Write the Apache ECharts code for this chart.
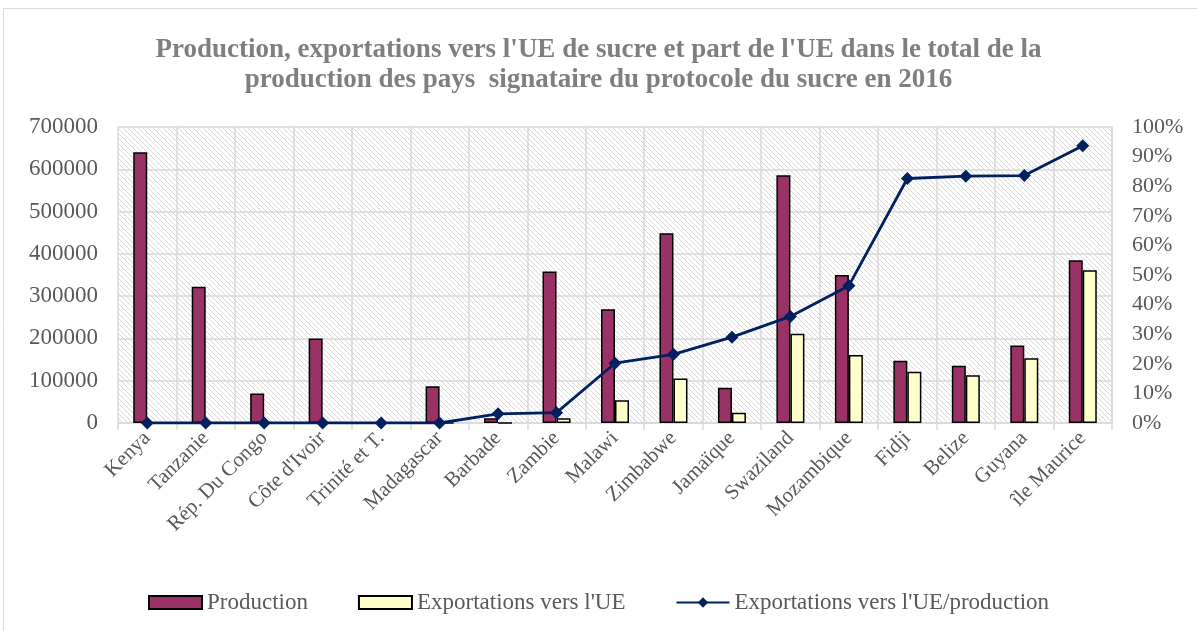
<!DOCTYPE html>
<html>
<head>
<meta charset="utf-8">
<script src="https://cdn.jsdelivr.net/npm/echarts@6/dist/echarts.min.js"></script>
<style>
  html, body { margin: 0; padding: 0; background: #fff; }
  #main { width: 1197px; height: 631px; }
</style>
</head>
<body>
<div id="main"></div>
<script>
const pays = ['Kenya', 'Tanzanie', 'Rép. Du Congo', "Côte d'Ivoir", 'Trinité et T.', 'Madagascar', 'Barbade', 'Zambie', 'Malawi', 'Zimbabwe', 'Jamaïque', 'Swaziland', 'Mozambique', 'Fidji', 'Belize', 'Guyana', 'île Maurice']
// production (tonnes)
const production = [640000, 322000, 70000, 200000, 0, 87000, 11000, 358000, 269000, 449000, 83500, 586000, 350000, 147000, 135500, 183000, 385000]
// exportations vers l'UE
const exportations = [0, 0, 0, 0, 0, 0, 350, 11000, 54000, 105000, 24000, 211000, 161000, 121000, 113000, 153000, 361000]
// part de l'UE dans la production
const part = [0, 0, 0, 0, 0, 0, 0.031, 0.035, 0.202, 0.232, 0.29, 0.36, 0.464, 0.826, 0.834, 0.836, 0.937]

const serif = '"Liberation Serif", "DejaVu Serif", serif'
const gris = '#595959'

// motif hachuré du fond
function hatch() {
  const c = document.createElement('canvas')
  c.width = 5
  c.height = 5
  const ctx = c.getContext('2d')
  ctx.fillStyle = '#fff'
  ctx.fillRect(0, 0, 5, 5)
  ctx.strokeStyle = '#d9d9d9'
  ctx.lineWidth = 1
  ctx.beginPath()
  ctx.moveTo(-1, -1); ctx.lineTo(6, 6)
  ctx.moveTo(-6, -1); ctx.lineTo(1, 6)
  ctx.moveTo(4, -1); ctx.lineTo(11, 6)
  ctx.stroke()
  return c
}

const chart = echarts.init(document.getElementById('main'))
const option = {
  backgroundColor: '#fff',
  animation: false,
  title: {
    text: "Production, exportations vers l'UE de sucre et part de l'UE dans le total de la\nproduction des pays  signataire du protocole du sucre en 2016",
    left: 'center',
    top: 30,
    textStyle: { fontFamily: serif, fontSize: 27, fontWeight: 'bold', color: '#7f7f7f', lineHeight: 30 }
  },
  graphic: [{
    type: 'rect',
    shape: { x: 3.5, y: 8.5, width: 1200, height: 630 },
    style: { fill: null, stroke: '#d9d9d9', lineWidth: 1 },
    silent: true
  }],
  legend: {
    bottom: 12,
    left: 143,
    itemGap: 50,
    itemWidth: 53,
    itemHeight: 13,
    textStyle: { fontFamily: serif, fontSize: 23, color: gris },
    data: [
      { name: 'Production', icon: 'rect' },
      { name: "Exportations vers l'UE", icon: 'rect' },
      { name: "Exportations vers l'UE/production" }
    ]
  },
  grid: {
    left: 118,
    right: 85,
    top: 127,
    bottom: 208,
    show: true,
    borderWidth: 0,
    backgroundColor: { image: hatch(), repeat: 'repeat' }
  },
  xAxis: {
    type: 'category',
    data: pays,
    axisLine: { lineStyle: { color: '#d9d9d9', width: 1.5 } },
    axisTick: { show: true, length: 7, lineStyle: { color: '#d9d9d9', width: 1.5 } },
    splitLine: { show: true, lineStyle: { color: '#d9d9d9', width: 1.5 } },
    axisLabel: { rotate: 45, interval: 0, margin: 12, fontFamily: serif, fontSize: 21, color: gris }
  },
  yAxis: [{
    type: 'value',
    min: 0,
    max: 700000,
    interval: 100000,
    axisLine: { show: false },
    axisTick: { show: false },
    splitLine: { lineStyle: { color: '#d9d9d9', width: 1.5 } },
    axisLabel: { margin: 20, fontFamily: serif, fontSize: 23, color: gris, formatter: v => String(v) }
  }, {
    type: 'value',
    min: 0,
    max: 1,
    interval: 0.1,
    axisLine: { show: true, lineStyle: { color: '#d9d9d9', width: 1.5 } },
    axisTick: { show: false },
    splitLine: { show: false },
    axisLabel: {
      margin: 20, fontFamily: serif, fontSize: 22, color: gris,
      formatter: v => Math.round(v * 100) + '%'
    }
  }],
  series: [{
    name: 'Production',
    type: 'bar',
    data: production,
    barWidth: 14,
    barGap: '0%',
    itemStyle: { color: '#993366', borderColor: '#000', borderWidth: 1.5 }
  }, {
    name: "Exportations vers l'UE",
    type: 'bar',
    data: exportations,
    barWidth: 14,
    itemStyle: { color: '#ffffcc', borderColor: '#000', borderWidth: 1.5 }
  }, {
    name: "Exportations vers l'UE/production",
    type: 'line',
    yAxisIndex: 1,
    data: part,
    symbol: 'diamond',
    symbolSize: 13,
    lineStyle: { color: '#002060', width: 2.8 },
    itemStyle: { color: '#002060' }
  }]
}
chart.setOption(option)
</script>
</body>
</html>
